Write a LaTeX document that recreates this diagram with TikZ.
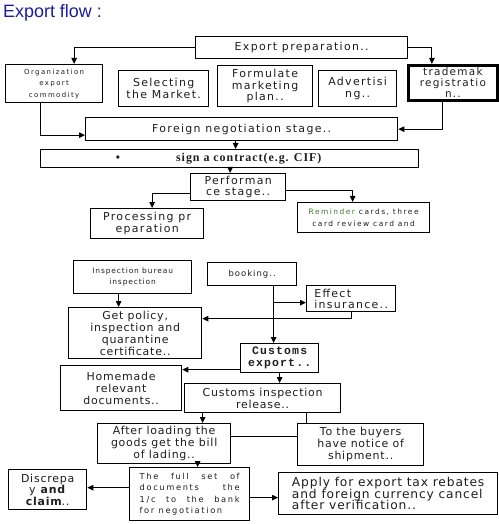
\documentclass[tikz,border=0pt]{standalone}
\usepackage{fontspec}
\setmainfont{Liberation Serif}
\newfontfamily\widefont[LetterSpace=12]{DejaVu Sans}
\newfontfamily\sparsefont[LetterSpace=20]{DejaVu Sans}
\newfontfamily\humfont[LetterSpace=7]{DejaVu Sans}
\newfontfamily\typefont[LetterSpace=10]{Liberation Mono}
\newfontfamily\serifwide[LetterSpace=8]{Liberation Serif}
\newfontfamily\titlefont{Liberation Sans}
\usetikzlibrary{arrows.meta}
\definecolor{flowblue}{HTML}{1C1C9C}
\definecolor{flowtext}{HTML}{1E1E1E}
\definecolor{flowgreen}{HTML}{3C7A2A}
\newcommand\fs[2]{\fontsize{#1}{#2}\selectfont}
\newcommand\tightlines{\lineskiplimit=-20pt\relax}

\begin{document}
\begin{tikzpicture}[x=1bp, y=-1bp,
  box/.style={draw=black, line width=1.3bp, anchor=north west, inner sep=1bp,
              align=center, text=flowtext},
  arrow/.style={-{Triangle[length=6bp,width=5.5bp]}, line width=1bp},
  link/.style={line width=1bp}
]
\fill[white] (0,0) rectangle (499,524);
\useasboundingbox (0,0) rectangle (499,524);

\node[anchor=north west, inner sep=0, text=flowblue, font=\titlefont\fs{18}{20}] (title) at (3,4) {Export flow :};

% preparation stage
\node[box, minimum width=212bp, minimum height=22bp, font=\widefont\fs{11}{12}] (prep) at (195,36) {Export preparation..};
\node[box, minimum width=97bp, minimum height=38bp, font=\sparsefont\fs{7}{11.5}] (org) at (5,64) {Organization\\export\\commodity};
\node[box, minimum width=90bp, minimum height=36bp, font=\widefont\fs{11}{12}] (sel) at (118,70) {Selecting\\the Market.};
\node[box, minimum width=95bp, minimum height=41bp, font=\widefont\fs{11}{11.5}] (plan) at (217,65) {Formulate\\marketing\\plan..};
\node[box, minimum width=78bp, minimum height=36bp, font=\widefont\fs{11}{12}] (adv) at (318,70) {Advertisi\\ng..};
\node[box, line width=2.8bp, minimum width=89bp, minimum height=35bp, font=\widefont\fs{10.5}{11}] (tm) at (407,64) {trademak\\registratio\\n..};
\node[box, minimum width=312bp, minimum height=23bp, font=\widefont\fs{11}{12}] (neg) at (85,117) {Foreign negotiation stage..};
\node[box, minimum width=378bp, minimum height=18bp, font=\serifwide\bfseries\fs{12}{13}] (sign) at (40,149) {\textbullet\hspace{56bp}sign a contract(e.g. CIF)\hspace{22bp}};
\node[box, minimum width=95bp, minimum height=27bp, font=\widefont\fs{11}{11.5}] (perf) at (190,173) {Performan\\ce stage..};

% performance stage
\node[box, minimum width=113bp, minimum height=30bp, font=\widefont\fs{11}{12}] (proc) at (90,208) {Processing pr\\eparation};
\node[box, minimum width=132bp, minimum height=30bp, font=\sparsefont\fs{7.5}{11.5}] (cards) at (297,202) {\textcolor{flowgreen}{Reminder} cards, three\\card review card and};
\node[box, minimum width=118bp, minimum height=33bp, font=\widefont\fs{7.5}{11.5}] (insp) at (73,260) {Inspection bureau\\inspection};
\node[box, minimum width=89bp, minimum height=23bp, font=\widefont\fs{8.5}{11}] (book) at (207,262) {booking..};
\node[box, minimum width=89bp, minimum height=26bp, align=left, font=\widefont\fs{11}{11}] (ins) at (306,285) {Effect\\insurance..};
\node[box, minimum width=133bp, minimum height=51bp, font=\humfont\fs{11}{12}] (pol) at (68,307) {Get policy,\\inspection and\\quarantine\\certificate..};
\node[box, minimum width=78bp, minimum height=29bp, font=\typefont\bfseries\fs{11.5}{12}] (cexp) at (240,343) {Customs\\export..};
\node[box, minimum width=121bp, minimum height=45bp, font=\humfont\fs{11}{12}] (home) at (60,365) {Homemade\\relevant\\documents..};
\node[box, minimum width=156bp, minimum height=29bp, font=\humfont\fs{11}{12}] (crel) at (184,383) {Customs inspection\\release..};
\node[box, minimum width=133bp, minimum height=40bp, font=\humfont\fs{11}{12}] (load) at (97,423) {After loading the\\goods get the bill\\of lading..};
\node[box, minimum width=126bp, minimum height=42bp, font=\humfont\fs{11}{12}] (buy) at (297,423) {To the buyers\\have notice of\\shipment..};
\node[box, minimum width=120bp, minimum height=53bp, text width=100bp, align=justify, font=\sparsefont\fs{8.3}{11.5}] (full) at (129,467) {The full set of\linebreak documents the\linebreak 1/c to the bank\linebreak for negotiation};
\node[box, minimum width=78bp, minimum height=40bp, font=\humfont\fs{11}{11.5}] (disc) at (8,469) {Discrepa\\y \textbf{and}\\\textbf{claim}..};
\node[box, minimum width=219bp, minimum height=42bp, align=left, font=\humfont\fs{12.3}{11.5}\tightlines] (tax) at (278,472) {Apply for export tax rebates\\and foreign currency cancel\\after verification..};

% connectors
\draw[arrow] (prep.west) -| ([xshift=20bp]org.north);
\draw[arrow] (prep.east) -| ([xshift=-21bp]tm.north);
\draw[arrow] ([xshift=-10bp]tm.south) |- (neg.east);
\draw[arrow] ([xshift=-14bp]org.south) |- ([yshift=-6bp]neg.west);
\coordinate (negout) at ([xshift=-6bp]neg.south);
\draw[arrow] (negout) -- (negout |- sign.north);
\coordinate (perfin) at ([xshift=-8bp]perf.north);
\draw[arrow] (perfin |- sign.south) -- (perfin);
\draw[arrow] ([yshift=-6bp]perf.west) -| ([xshift=5bp]proc.north);
\draw[arrow] ([yshift=-3bp]perf.east) -| ([xshift=-11bp]cards.north);
\coordinate (inspout) at ([xshift=-14bp]insp.south);
\draw[arrow] (inspout) -- (inspout |- pol.north);
\coordinate (bookout) at ([xshift=21.5bp]book.south);
\draw[arrow] (bookout) -- (bookout |- cexp.north);
\coordinate (insin) at ([yshift=-4bp]ins.west);
\draw[arrow] (bookout |- insin) -- (insin);
\coordinate (polin) at ([yshift=14.5bp]pol.east);
\draw[arrow] (ins.south) |- (polin);
\coordinate (homein) at ([yshift=-11.5bp]cexp.west);
\draw[arrow] (homein) -- (homein -| home.east);
\draw[arrow] (cexp.south) -- (cexp.south |- crel.north);
\coordinate (loadin) at ([xshift=-60bp]crel.south);
\draw[arrow] (loadin) -- (loadin |- load.north);
\coordinate (buyin) at ([xshift=44bp]crel.south);
\draw[link] (buyin) -- (buyin |- buy.north);
\coordinate (buylink) at ([yshift=7bp]load.east);
\draw[link] (buylink) -- (buylink -| buy.west);
\coordinate (fullin) at ([xshift=33.5bp]load.south);
\draw[arrow] (fullin) -- (fullin |- full.north);
\coordinate (discin) at ([yshift=6.5bp]full.west);
\draw[arrow] (discin) -- (discin -| disc.east);
\coordinate (taxin) at ([yshift=-3.5bp]full.east);
\draw[arrow] (taxin) -- (taxin -| tax.west);
\end{tikzpicture}
\end{document}
